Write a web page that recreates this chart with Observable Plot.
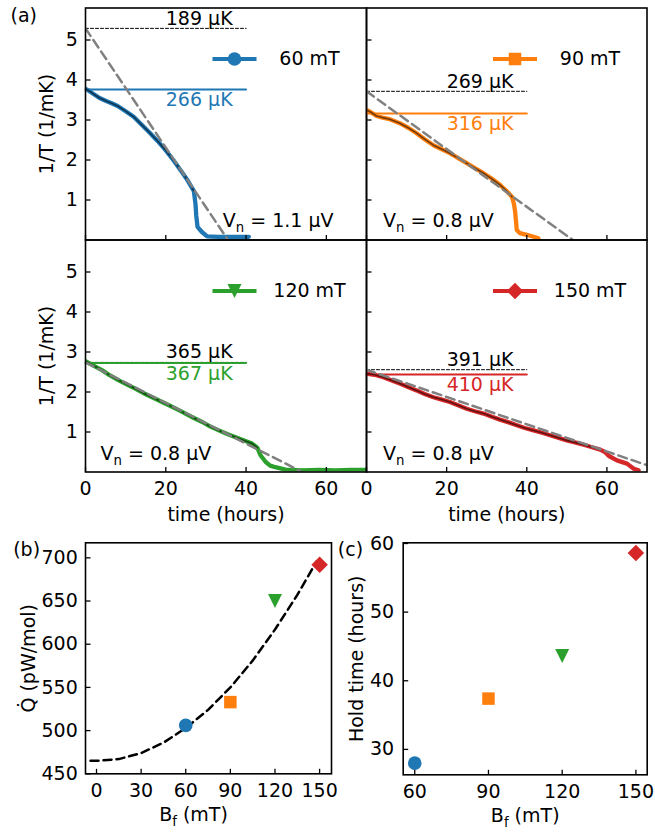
<!DOCTYPE html>
<html><head><meta charset="utf-8">
<script src="https://cdn.jsdelivr.net/npm/d3@7"></script>
<script src="https://cdn.jsdelivr.net/npm/@observablehq/plot@0.6"></script>
<style>
body{margin:0;background:#fff;}
#fig{position:relative;width:655px;height:832px;overflow:hidden;}
#fig svg{position:absolute;left:0;top:0;max-width:none;}
</style></head><body><div id="fig"></div>
<script>
// ---------- data ----------
const fieldLabels = ["60 mT", "90 mT", "120 mT", "150 mT"];
const t60 = [0, 1, 2, 3.5, 5, 6.5, 8, 10, 12, 14, 16, 18, 20, 22, 24, 25.5, 27, 27.4, 27.6, 27.9, 29, 30.3, 33, 37, 40.7];
const v60 = [3.78, 3.72, 3.65, 3.55, 3.48, 3.42, 3.35, 3.22, 3.08, 2.88, 2.68, 2.47, 2.24, 1.98, 1.70, 1.48, 1.22, 0.9, 0.6, 0.33, 0.2, 0.09, 0.08, 0.08, 0.08];
const t90 = [0, 1, 2.5, 4, 5.8, 8.3, 10.5, 12.5, 14.5, 16.7, 18.8, 20.8, 23, 25, 27, 29.2, 31.3, 33.3, 35, 36.3, 36.8, 37.1, 37.5, 38.3, 40, 41.7, 42.9];
const v90 = [3.25, 3.2, 3.1, 3.06, 3.02, 2.92, 2.8, 2.67, 2.52, 2.37, 2.27, 2.17, 2.04, 1.92, 1.80, 1.67, 1.53, 1.38, 1.22, 1.08, 0.9, 0.7, 0.25, 0.17, 0.13, 0.08, 0.04];
const t120 = [0, 2, 4.2, 6, 8.3, 10.5, 12.5, 14.5, 16.6, 18.7, 20.8, 23, 24.9, 27, 29.1, 31, 33.2, 35.3, 37.4, 39.5, 41.5, 42.8, 43.6, 44.9, 46, 47.3, 49.8, 54, 58, 62.3, 66, 70];
const v120 = [2.77, 2.66, 2.54, 2.42, 2.29, 2.18, 2.08, 1.97, 1.87, 1.77, 1.67, 1.56, 1.46, 1.35, 1.25, 1.14, 1.04, 0.95, 0.87, 0.79, 0.71, 0.61, 0.42, 0.25, 0.16, 0.12, 0.06, 0.04, 0.05, 0.04, 0.05, 0.05];
const t150 = [0, 2, 4.2, 6, 8.3, 10.5, 12.5, 14.5, 16.7, 18.8, 20.8, 23, 25, 27, 29.2, 31.3, 33.3, 35.5, 37.5, 39.5, 41.7, 43.8, 45.8, 48, 50, 52, 54.2, 56.3, 58.3, 59.5, 60.5, 62.5, 65, 66.7, 67.9];
const v150 = [2.46, 2.43, 2.37, 2.30, 2.21, 2.12, 2.04, 1.95, 1.87, 1.81, 1.75, 1.66, 1.58, 1.52, 1.46, 1.38, 1.31, 1.24, 1.17, 1.10, 1.04, 0.98, 0.92, 0.85, 0.79, 0.74, 0.68, 0.62, 0.56, 0.50, 0.40, 0.29, 0.21, 0.08, 0.04];
const times = [t60, t90, t120, t150];
const invT = [v60, v90, v120, v150];
const Tfit = [189, 269, 365, 391];      // µK, intercept of linear extrapolation
const Tstart = [266, 316, 367, 410];    // µK, starting temperature
const fitEnd = [27.2, 36.3, 42.8, 58.3];   // hours, end of fitted section
const extrapEnd = [35.5, 51.5, 54, 75];    // hours where extrapolation reaches 0
const VnValues = ["1.1", "0.8", "0.8", "0.8"];
const refLineEnd = 40;
const refLabelAt = 20;

const Bf = [60, 90, 120, 150];
const Qdot = [506, 533, 650, 692];
const holdTime = [28.0, 37.4, 43.6, 58.6];
const fitB = [-4, 0, 15, 30, 45, 60, 75, 90, 105, 120, 135, 148];
const fitQ = [465, 465, 467, 474, 486, 503, 524, 550, 581, 617, 657, 696];

const ticksAx = [0, 20, 40, 60], ticksAy = [1, 2, 3, 4, 5];
const ticksBx = [0, 30, 60, 90, 120, 150], ticksBy = [450, 500, 550, 600, 650, 700];
const ticksCx = [60, 90, 120, 150], ticksCy = [30, 40, 50, 60];

// ---------- styles ----------
const colors = ["#1f77b4", "#ff7f0e", "#2ca02c", "#d62728"];
const W = 655, H = 832, FS = 19;
const fig = document.getElementById("fig");

const lineSym = (dx, dy) => ({draw(c){ c.moveTo(0,0); c.lineTo(dx,dy); }});
const hSeg = (len) => ({draw(c){ c.moveTo(-len/2,0); c.lineTo(len/2,0); }});
const squareSym = (s) => ({draw(c){ c.moveTo(-s/2,-s/2); c.lineTo(s/2,-s/2); c.lineTo(s/2,s/2); c.lineTo(-s/2,s/2); c.closePath(); }});
const triDownSym = (w) => ({draw(c){ c.moveTo(-w/2,-w/2); c.lineTo(w/2,-w/2); c.lineTo(0,w/2); c.closePath(); }});
const diamondSym = (d) => ({draw(c){ c.moveTo(0,-d/2); c.lineTo(d/2,0); c.lineTo(0,d/2); c.lineTo(-d/2,0); c.closePath(); }});
const markers = [null, squareSym(12.5), triDownSym(14), diamondSym(16.5)];

function markerMark(data, k, opts) {
  if (k === 0) return Plot.dot(data, {...opts, r: 6.8, fill: colors[k], stroke: "none"});
  return Plot.dot(data, {...opts, symbol: markers[k], fill: colors[k], stroke: "none"});
}

function subscriptify(root) {
  const ns = "http://www.w3.org/2000/svg";
  root.querySelectorAll("text").forEach(el => {
    const s = el.textContent;
    if (!s.includes("_{")) return;
    while (el.firstChild) el.removeChild(el.firstChild);
    const re = /_\{([^}]*)\}/g; let last = 0, m;
    let pending = 0;
    const add = (txt, size, dy) => { const t = document.createElementNS(ns, "tspan"); t.textContent = txt; if (size) t.setAttribute("font-size", size); if (dy) t.setAttribute("dy", dy); el.appendChild(t); };
    while ((m = re.exec(s))) {
      if (m.index > last) { add(s.slice(last, m.index), null, pending); pending = 0; }
      add(m[1], (FS * 0.7) + "px", pending + 4.5);
      pending = -4.5;
      last = re.lastIndex;
    }
    if (last < s.length) add(s.slice(last), null, pending);
  });
}

function framePlot(box, x, y, marks) {
  const p = Plot.plot({
    width: W, height: H,
    marginLeft: box.l, marginRight: W - box.r, marginTop: box.t, marginBottom: H - box.b,
    x: {...x, axis: null}, y: {...y, axis: null},
    style: {fontFamily: "'DejaVu Sans', sans-serif", fontSize: FS + "px", background: "transparent", color: "black", overflow: "visible"},
    marks
  });
  subscriptify(p);
  fig.appendChild(p);
}

function tickMarks(xt, yt) {
  return [
    Plot.dot(xt, {x: d => d, frameAnchor: "bottom", symbol: lineSym(0, -5), stroke: "black", strokeWidth: 1.3, fill: "none"}),
    Plot.dot(yt, {y: d => d, frameAnchor: "left", symbol: lineSym(5, 0), stroke: "black", strokeWidth: 1.3, fill: "none"})
  ];
}
function xTickText(xt) { return Plot.text(xt, {x: d => d, frameAnchor: "bottom", dy: 9.5, lineAnchor: "top", text: d => String(d)}); }
function yTickText(yt, dx = -7.7) { return Plot.text(yt, {y: d => d, frameAnchor: "left", dx, textAnchor: "end", lineAnchor: "middle", text: d => String(d)}); }

// ---------- panel (a) ----------
const boxesA = [
  {l: 85, r: 366, t: 7.5, b: 239.5},
  {l: 366, r: 646.5, t: 7.5, b: 239.5},
  {l: 85, r: 366, t: 239.5, b: 471.5},
  {l: 366, r: 646.5, t: 239.5, b: 471.5}
];
const vnPlace = [
  {frameAnchor: "bottom-right", dx: -33, dy: -19, textAnchor: "end"},
  {frameAnchor: "bottom-left", dx: 16.5, dy: -19, textAnchor: "start"},
  {frameAnchor: "bottom-left", dx: 15, dy: -17.6, textAnchor: "start"},
  {frameAnchor: "bottom-left", dx: 16.5, dy: -17.6, textAnchor: "start"}
];

for (let k = 0; k < 4; k++) {
  const rows = times[k].map((t, j) => ({t, v: invT[k][j]}));
  const fitRows = rows.filter(d => d.t <= fitEnd[k]);
  const yFit = 1000 / Tfit[k], yStart = 1000 / Tstart[k];
  const extrap = [{t: 0, v: yFit}, {t: extrapEnd[k], v: 0}];
  const hFit = [{t: 0, v: yFit}, {t: refLineEnd, v: yFit}];
  const hStart = [{t: 0, v: yStart}, {t: refLineEnd, v: yStart}];
  const left = k % 2 === 0, bottom = k >= 2;
  const marks = [
    Plot.line(hFit, {x: "t", y: "v", stroke: "black", strokeWidth: 1, strokeDasharray: "3,2"}),
    Plot.line(hStart, {x: "t", y: "v", stroke: colors[k], strokeWidth: 2}),
    Plot.line(rows, {x: "t", y: "v", stroke: colors[k], strokeWidth: 4.3, strokeLinejoin: "round", clip: true}),
    Plot.line(fitRows, {x: "t", y: "v", stroke: "black", strokeOpacity: 0.55, strokeWidth: 1.6, clip: true}),
    Plot.line(extrap, {x: "t", y: "v", stroke: "#808080", strokeWidth: 2.5, strokeDasharray: "9,5", clip: true}),
    Plot.text([{t: refLabelAt, v: yFit, s: `${Tfit[k]} µK`}], {x: "t", y: "v", text: "s", textAnchor: "start", lineAnchor: "middle", dy: k === 2 ? -11 : -9.5, fill: "black"}),
    Plot.text([{t: refLabelAt, v: yStart, s: `${Tstart[k]} µK`}], {x: "t", y: "v", text: "s", textAnchor: "start", lineAnchor: "middle", dy: 10.5, fill: colors[k]}),
    Plot.dot([0], {frameAnchor: "top-right", dx: -132, dy: 51, symbol: hSeg(44), stroke: colors[k], strokeWidth: 4, fill: "none"}),
    markerMark([0], k, {frameAnchor: "top-right", dx: -132, dy: 51}),
    Plot.text([fieldLabels[k]], {frameAnchor: "top-right", dx: -57, dy: 51, textAnchor: "middle", lineAnchor: "middle"}),
    Plot.text([`V_{n} = ${VnValues[k]} µV`], {...vnPlace[k], lineAnchor: "middle"}),
    ...tickMarks(ticksAx, ticksAy),
    Plot.frame({stroke: "black", strokeWidth: 1.6})
  ];
  if (left) {
    marks.push(yTickText(ticksAy));
    marks.push(Plot.text(["1/T (1/mK)"], {frameAnchor: "left", dx: -38.3, rotate: -90, textAnchor: "middle", lineAnchor: "middle"}));
  }
  if (bottom) {
    marks.push(xTickText(ticksAx));
    marks.push(Plot.text(["time (hours)"], {frameAnchor: "bottom", dy: 42.5, textAnchor: "middle", lineAnchor: "middle"}));
  }
  if (k === 0) marks.push(Plot.text(["(a)"], {frameAnchor: "top-left", dx: -75, dy: 8.3, textAnchor: "start", lineAnchor: "middle"}));
  framePlot(boxesA[k], {domain: [0, 70]}, {domain: [0, 5.8]}, marks);
}

// ---------- panel (b) ----------
{
  const fitRows = fitB.map((b, i) => ({b, q: fitQ[i]}));
  const marks = [
    Plot.line(fitRows, {x: "b", y: "q", stroke: "black", strokeWidth: 2.5, strokeDasharray: "8,5", clip: true}),
    ...Bf.map((b, k) => markerMark([{b, q: Qdot[k]}], k, {x: "b", y: "q"})),
    ...tickMarks(ticksBx, ticksBy),
    xTickText(ticksBx), yTickText(ticksBy),
    Plot.text(["Q\u0307 (pW/mol)"], {frameAnchor: "left", dx: -56.7, rotate: -90, textAnchor: "middle", lineAnchor: "middle"}),
    Plot.text(["B_{f} (mT)"], {frameAnchor: "bottom", dx: -15, dy: 41.3, textAnchor: "middle", lineAnchor: "middle"}),
    Plot.text(["(b)"], {frameAnchor: "top-left", dx: -72.3, dy: 7.2, textAnchor: "start", lineAnchor: "middle"}),
    Plot.frame({stroke: "black", strokeWidth: 1.6})
  ];
  framePlot({l: 85, r: 331, t: 542.3, b: 773.3}, {domain: [-7.4, 158]}, {domain: [450, 717.4]}, marks);
}

// ---------- panel (c) ----------
{
  const marks = [
    ...Bf.map((b, k) => markerMark([{b, h: holdTime[k]}], k, {x: "b", y: "h"})),
    ...tickMarks(ticksCx, ticksCy),
    xTickText(ticksCx), yTickText(ticksCy, -9),
    Plot.text(["Hold time (hours)"], {frameAnchor: "left", dx: -46.7, rotate: -90, textAnchor: "middle", lineAnchor: "middle"}),
    Plot.text(["B_{f} (mT)"], {frameAnchor: "bottom", dy: 41.3, textAnchor: "middle", lineAnchor: "middle"}),
    Plot.text(["(c)"], {frameAnchor: "top-left", dx: -65.4, dy: 7.2, textAnchor: "start", lineAnchor: "middle"}),
    Plot.frame({stroke: "black", strokeWidth: 1.6})
  ];
  framePlot({l: 402.7, r: 646.7, t: 542.3, b: 774.3}, {domain: [55.3, 154.6]}, {domain: [26.3, 60.1]}, marks);
}
</script></body></html>
